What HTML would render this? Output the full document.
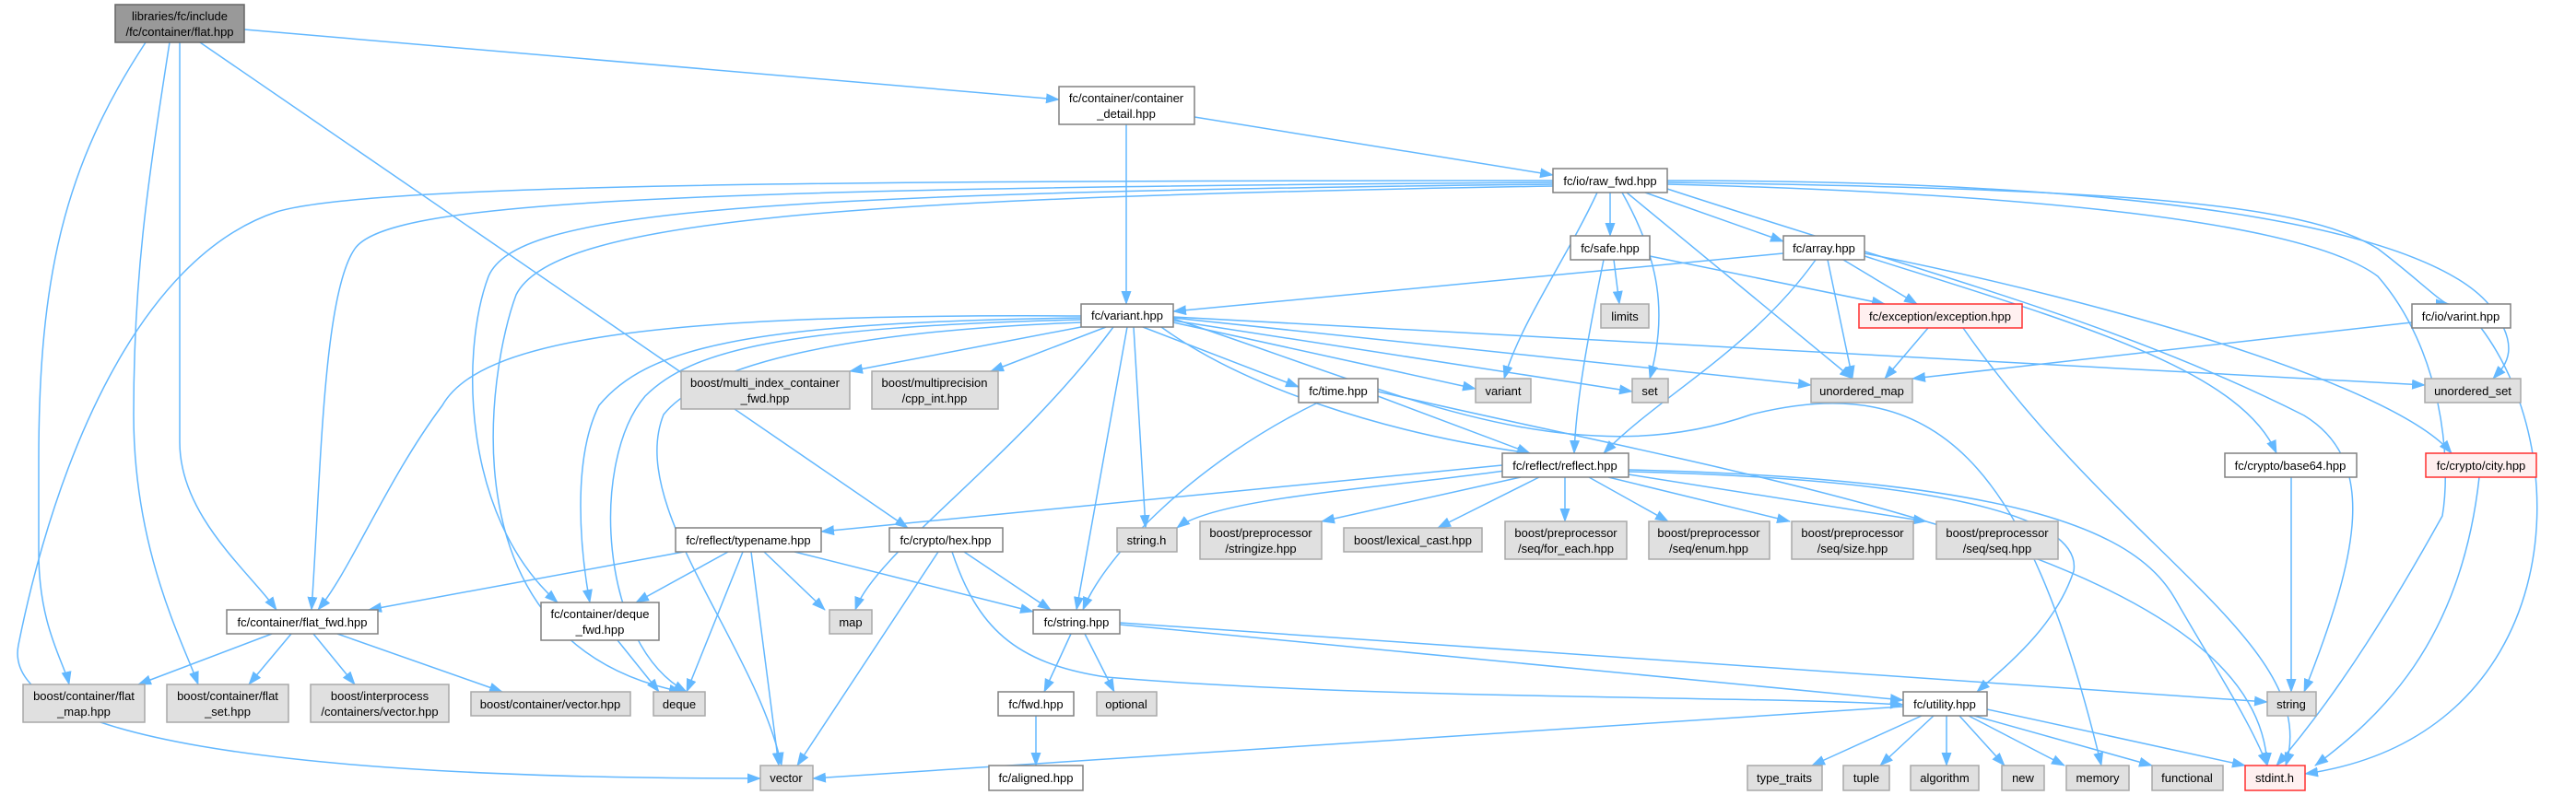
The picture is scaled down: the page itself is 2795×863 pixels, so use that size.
<!DOCTYPE html>
<html><head><meta charset="utf-8"><style>
html,body{margin:0;padding:0;background:#fff}
svg{display:block}
text{font-family:"Liberation Sans",sans-serif;font-size:13px;fill:#000;text-anchor:middle}
.e{fill:none;stroke:#63b8ff;stroke-width:1.5}
.w{fill:#fff;stroke:#808080;stroke-width:1.5}
.g{fill:#e0e0e0;stroke:#a8a8a8;stroke-width:1.5}
.r{fill:#fff0f0;stroke:#ff3030;stroke-width:1.5}
.k{fill:#999;stroke:#666;stroke-width:1.5}
</style></head><body>
<svg width="2795" height="863" viewBox="0 0 2795 863" xmlns="http://www.w3.org/2000/svg">
<defs><marker id="a" markerUnits="userSpaceOnUse" markerWidth="15" markerHeight="11" refX="14" refY="5.5" orient="auto"><path d="M0,0 L15,5.5 L0,11 z" fill="#63b8ff"/></marker></defs>
<g class="edges" marker-end="url(#a)">
<path class="e" d="M265,32 L1149,108"/>
<path class="e" d="M158,46 C70,180 42,300 42,500 L42,600 C42,680 70,720 75,743"/>
<path class="e" d="M184,46 C160,200 145,300 145,450 C145,600 200,700 215,743"/>
<path class="e" d="M195,46 L195,480 C195,560 270,620 300,662"/>
<path class="e" d="M217,46 L985,573"/>
<path class="e" d="M1222,135 L1222,330"/>
<path class="e" d="M1296,127 L1685,190"/>
<path class="e" d="M1685,196 C900,196 400,200 300,230 C150,280 60,500 20,700 C0,800 300,845 825,845"/>
<path class="e" d="M1685,198 C700,205 420,220 385,270 C350,320 348,520 338,662"/>
<path class="e" d="M1685,200 C800,210 560,230 530,300 C500,380 500,560 605,654"/>
<path class="e" d="M1685,202 C900,215 600,240 560,320 C530,400 480,700 740,751"/>
<path class="e" d="M1733,209 C1700,280 1650,350 1632,411"/>
<path class="e" d="M1747,209 L1747,256"/>
<path class="e" d="M1760,209 C1800,280 1810,340 1790,411"/>
<path class="e" d="M1765,209 L2010,411"/>
<path class="e" d="M1785,209 L1935,262"/>
<path class="e" d="M1809,205 C2100,300 2300,350 2500,451 C2580,500 2560,600 2500,751"/>
<path class="e" d="M1809,200 C2200,210 2500,240 2580,300 C2650,380 2660,500 2650,560 C2600,650 2540,750 2470,831"/>
<path class="e" d="M1809,198 C2300,205 2500,220 2580,270 C2620,300 2650,330 2657,330"/>
<path class="e" d="M1809,196 C2400,196 2640,260 2700,330 C2740,380 2715,400 2705,411"/>
<path class="e" d="M1935,275 L1273,338"/>
<path class="e" d="M2000,282 L2080,330"/>
<path class="e" d="M1983,282 L2010,411"/>
<path class="e" d="M1970,282 C1900,380 1800,430 1740,492"/>
<path class="e" d="M2023,278 C2250,350 2430,400 2470,492"/>
<path class="e" d="M2023,275 C2300,330 2600,420 2660,492"/>
<path class="e" d="M1751,282 L1757,330"/>
<path class="e" d="M1790,278 L2045,330"/>
<path class="e" d="M1740,282 C1720,380 1710,440 1708,492"/>
<path class="e" d="M2092,356 L2045,411"/>
<path class="e" d="M2130,356 C2300,600 2520,700 2480,831"/>
<path class="e" d="M2617,350 L2075,411"/>
<path class="e" d="M2692,356 C2800,500 2780,800 2501,840"/>
<path class="e" d="M2690,518 C2670,700 2580,780 2512,831"/>
<path class="e" d="M2486,518 L2486,751"/>
<path class="e" d="M1173,355 L922,403"/>
<path class="e" d="M1200,355 L1075,403"/>
<path class="e" d="M1173,343 C700,340 520,370 480,440 C420,520 380,620 345,662"/>
<path class="e" d="M1173,345 C800,350 700,380 650,440 C620,500 630,600 640,654"/>
<path class="e" d="M1173,347 C850,355 750,380 700,430 C640,500 650,700 745,751"/>
<path class="e" d="M1173,350 C900,360 760,400 720,450 C680,550 820,700 848,831"/>
<path class="e" d="M1208,355 C1100,500 950,600 928,662"/>
<path class="e" d="M1230,355 L1243,573"/>
<path class="e" d="M1223,355 L1168,662"/>
<path class="e" d="M1240,355 L1409,420"/>
<path class="e" d="M1273,350 L1601,422"/>
<path class="e" d="M1273,348 L1771,425"/>
<path class="e" d="M1273,345 L1965,418"/>
<path class="e" d="M1273,344 L2631,418"/>
<path class="e" d="M1260,355 C1350,420 1500,470 1660,492"/>
<path class="e" d="M1273,346 C1500,420 1700,520 1900,450 C2100,400 2200,500 2280,831"/>
<path class="e" d="M1495,430 L1660,492"/>
<path class="e" d="M1430,437 C1300,500 1200,600 1175,662"/>
<path class="e" d="M1495,425 C1900,520 2450,600 2460,831"/>
<path class="e" d="M1630,505 L891,577"/>
<path class="e" d="M1640,510 C1500,530 1320,540 1277,573"/>
<path class="e" d="M1650,518 L1434,566"/>
<path class="e" d="M1670,518 L1560,573"/>
<path class="e" d="M1698,518 L1698,566"/>
<path class="e" d="M1724,518 L1810,566"/>
<path class="e" d="M1745,518 L1942,566"/>
<path class="e" d="M1767,515 L2090,566"/>
<path class="e" d="M1767,512 C2100,520 2260,560 2250,620 C2230,680 2180,720 2145,751"/>
<path class="e" d="M1767,510 C2200,520 2320,580 2360,650 C2400,720 2440,780 2460,831"/>
<path class="e" d="M742,599 L400,662"/>
<path class="e" d="M790,599 L690,654"/>
<path class="e" d="M806,599 L745,751"/>
<path class="e" d="M815,599 L845,831"/>
<path class="e" d="M829,599 L895,662"/>
<path class="e" d="M862,599 L1121,664"/>
<path class="e" d="M1018,599 L865,831"/>
<path class="e" d="M1046,599 L1140,662"/>
<path class="e" d="M1033,599 C1060,680 1100,720 1200,735 C1500,760 1900,755 2065,765"/>
<path class="e" d="M295,688 L150,743"/>
<path class="e" d="M316,688 L270,743"/>
<path class="e" d="M340,688 L385,743"/>
<path class="e" d="M366,688 L545,751"/>
<path class="e" d="M670,695 L715,751"/>
<path class="e" d="M1162,688 L1133,751"/>
<path class="e" d="M1177,688 L1209,751"/>
<path class="e" d="M1215,678 L2065,760"/>
<path class="e" d="M1215,676 L2460,762"/>
<path class="e" d="M1124,777 L1124,831"/>
<path class="e" d="M2065,767 L882,845"/>
<path class="e" d="M2085,777 L1966,831"/>
<path class="e" d="M2098,777 L2040,831"/>
<path class="e" d="M2112,777 L2112,831"/>
<path class="e" d="M2126,777 L2175,831"/>
<path class="e" d="M2136,777 L2240,831"/>
<path class="e" d="M2142,777 L2335,831"/>
<path class="e" d="M2156,770 L2436,831"/>
</g>
<g>
<rect class="k" x="125" y="5" width="140" height="41"/><text x="195" y="22">libraries/fc/include</text><text x="195" y="39">/fc/container/flat.hpp</text>
<rect class="w" x="1149" y="94" width="147" height="41"/><text x="1222" y="111">fc/container/container</text><text x="1222" y="128">_detail.hpp</text>
<rect class="w" x="1173" y="330" width="100" height="25"/><text x="1223" y="347">fc/variant.hpp</text>
<rect class="g" x="739" y="403" width="183" height="41"/><text x="830" y="420">boost/multi_index_container</text><text x="830" y="437">_fwd.hpp</text>
<rect class="g" x="946" y="403" width="137" height="41"/><text x="1014" y="420">boost/multiprecision</text><text x="1014" y="437">/cpp_int.hpp</text>
<rect class="w" x="1685" y="183" width="124" height="26"/><text x="1747" y="201">fc/io/raw_fwd.hpp</text>
<rect class="w" x="1704" y="256" width="86" height="26"/><text x="1747" y="274">fc/safe.hpp</text>
<rect class="w" x="1935" y="256" width="88" height="26"/><text x="1979" y="274">fc/array.hpp</text>
<rect class="g" x="1737" y="330" width="52" height="26"/><text x="1763" y="348">limits</text>
<rect class="r" x="2017" y="330" width="177" height="26"/><text x="2105" y="348">fc/exception/exception.hpp</text>
<rect class="w" x="2617" y="330" width="107" height="26"/><text x="2670" y="348">fc/io/varint.hpp</text>
<rect class="w" x="1409" y="411" width="86" height="26"/><text x="1452" y="429">fc/time.hpp</text>
<rect class="g" x="1601" y="411" width="60" height="26"/><text x="1631" y="429">variant</text>
<rect class="g" x="1771" y="411" width="39" height="26"/><text x="1790" y="429">set</text>
<rect class="g" x="1965" y="411" width="110" height="26"/><text x="2020" y="429">unordered_map</text>
<rect class="g" x="2631" y="411" width="104" height="26"/><text x="2683" y="429">unordered_set</text>
<rect class="w" x="1630" y="492" width="137" height="26"/><text x="1698" y="510">fc/reflect/reflect.hpp</text>
<rect class="w" x="2414" y="492" width="143" height="26"/><text x="2485" y="510">fc/crypto/base64.hpp</text>
<rect class="r" x="2632" y="492" width="120" height="26"/><text x="2692" y="510">fc/crypto/city.hpp</text>
<rect class="w" x="733" y="573" width="158" height="26"/><text x="812" y="591">fc/reflect/typename.hpp</text>
<rect class="w" x="965" y="573" width="123" height="26"/><text x="1026" y="591">fc/crypto/hex.hpp</text>
<rect class="g" x="1212" y="573" width="65" height="26"/><text x="1244" y="591">string.h</text>
<rect class="g" x="1302" y="566" width="132" height="41"/><text x="1368" y="583">boost/preprocessor</text><text x="1368" y="600">/stringize.hpp</text>
<rect class="g" x="1458" y="573" width="150" height="26"/><text x="1533" y="591">boost/lexical_cast.hpp</text>
<rect class="g" x="1633" y="566" width="132" height="41"/><text x="1699" y="583">boost/preprocessor</text><text x="1699" y="600">/seq/for_each.hpp</text>
<rect class="g" x="1789" y="566" width="131" height="41"/><text x="1854" y="583">boost/preprocessor</text><text x="1854" y="600">/seq/enum.hpp</text>
<rect class="g" x="1944" y="566" width="132" height="41"/><text x="2010" y="583">boost/preprocessor</text><text x="2010" y="600">/seq/size.hpp</text>
<rect class="g" x="2101" y="566" width="132" height="41"/><text x="2167" y="583">boost/preprocessor</text><text x="2167" y="600">/seq/seq.hpp</text>
<rect class="w" x="246" y="662" width="164" height="26"/><text x="328" y="680">fc/container/flat_fwd.hpp</text>
<rect class="w" x="587" y="654" width="128" height="41"/><text x="651" y="671">fc/container/deque</text><text x="651" y="688">_fwd.hpp</text>
<rect class="g" x="900" y="662" width="46" height="26"/><text x="923" y="680">map</text>
<rect class="w" x="1121" y="662" width="94" height="26"/><text x="1168" y="680">fc/string.hpp</text>
<rect class="g" x="25" y="743" width="132" height="41"/><text x="91" y="760">boost/container/flat</text><text x="91" y="777">_map.hpp</text>
<rect class="g" x="181" y="743" width="132" height="41"/><text x="247" y="760">boost/container/flat</text><text x="247" y="777">_set.hpp</text>
<rect class="g" x="337" y="743" width="150" height="41"/><text x="412" y="760">boost/interprocess</text><text x="412" y="777">/containers/vector.hpp</text>
<rect class="g" x="511" y="751" width="173" height="26"/><text x="597" y="769">boost/container/vector.hpp</text>
<rect class="g" x="709" y="751" width="56" height="26"/><text x="737" y="769">deque</text>
<rect class="w" x="1083" y="751" width="82" height="26"/><text x="1124" y="769">fc/fwd.hpp</text>
<rect class="g" x="1190" y="751" width="65" height="26"/><text x="1222" y="769">optional</text>
<rect class="w" x="2065" y="751" width="91" height="26"/><text x="2110" y="769">fc/utility.hpp</text>
<rect class="g" x="2460" y="751" width="53" height="26"/><text x="2486" y="769">string</text>
<rect class="g" x="825" y="831" width="57" height="27"/><text x="853" y="849">vector</text>
<rect class="w" x="1073" y="831" width="102" height="27"/><text x="1124" y="849">fc/aligned.hpp</text>
<rect class="g" x="1896" y="831" width="81" height="27"/><text x="1936" y="849">type_traits</text>
<rect class="g" x="2000" y="831" width="50" height="27"/><text x="2025" y="849">tuple</text>
<rect class="g" x="2073" y="831" width="74" height="27"/><text x="2110" y="849">algorithm</text>
<rect class="g" x="2172" y="831" width="46" height="27"/><text x="2195" y="849">new</text>
<rect class="g" x="2242" y="831" width="68" height="27"/><text x="2276" y="849">memory</text>
<rect class="g" x="2335" y="831" width="77" height="27"/><text x="2373" y="849">functional</text>
<rect class="r" x="2436" y="831" width="65" height="27"/><text x="2468" y="849">stdint.h</text>
</g>
</svg>
</body></html>
